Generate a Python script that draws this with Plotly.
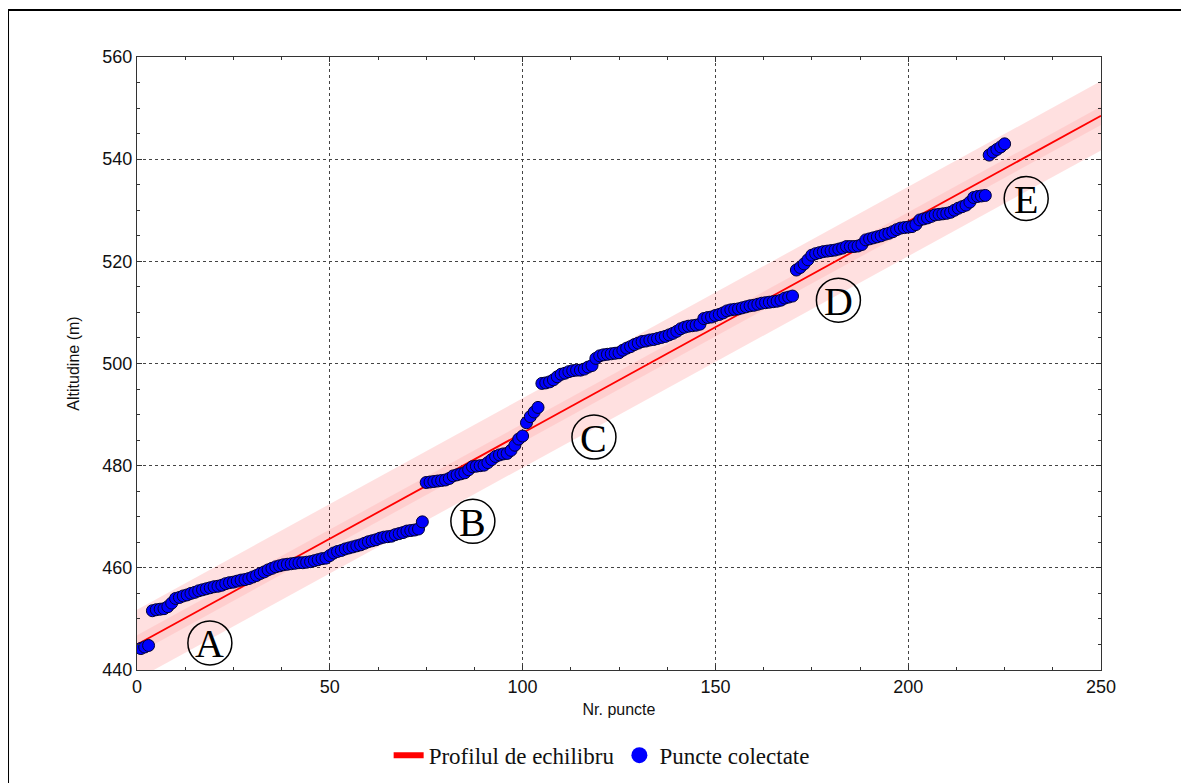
import plotly.graph_objects as go

# ---------------- data ----------------
point_x = list(range(1, 226))
point_y = [
    444.2, 444.5, 444.8,
    451.6, 451.8, 451.9, 452.0, 452.4, 453.1, 454.0, 454.2, 454.5, 454.7,
    455.0, 455.2, 455.5, 455.7, 455.9, 456.1, 456.3, 456.4, 456.6, 456.9,
    457.1, 457.2, 457.4, 457.6, 457.7, 457.9, 458.2, 458.5, 458.9, 459.2,
    459.6, 459.9, 460.2, 460.4, 460.6, 460.7, 460.8, 460.9, 461.0, 461.0,
    461.1, 461.2, 461.4, 461.6, 461.8, 461.9, 462.4, 462.9, 463.2, 463.4,
    463.7, 463.9, 464.1, 464.3, 464.5, 464.8, 465.1, 465.3, 465.5, 465.8,
    466.0, 466.1, 466.2, 466.5, 466.7, 466.9, 467.2, 467.3, 467.4, 467.6,
    469.0,
    476.7, 476.8, 476.9, 477.0, 477.1, 477.2, 477.5, 478.0, 478.2, 478.4,
    478.6, 479.2, 479.8, 479.9, 480.0, 480.1, 480.6, 481.2, 481.8, 482.1,
    482.3, 482.4, 483.0, 484.0, 485.2, 485.8, 488.4, 489.6, 490.5, 491.4,
    496.1, 496.2, 496.4, 496.8, 497.4, 497.9, 498.1, 498.4, 498.6, 498.7,
    498.7, 498.9, 499.3, 499.6, 501.0, 501.5, 501.7, 501.8, 501.9, 502.0,
    502.1, 502.6, 503.0, 503.3, 503.7, 504.0, 504.3, 504.4, 504.6, 504.7,
    504.9, 505.1, 505.3, 505.6, 505.9, 506.3, 506.8, 507.1, 507.3, 507.4,
    507.5, 507.7, 508.8, 509.0, 509.1, 509.4, 509.6, 509.9, 510.3, 510.5,
    510.6, 510.7, 510.9, 511.1, 511.3, 511.4, 511.6, 511.8, 511.9, 512.0,
    512.1, 512.2, 512.4, 512.8, 513.0, 513.2,
    518.3, 518.8, 519.5, 520.3, 521.2, 521.5, 521.7, 521.9, 522.0, 522.1,
    522.2, 522.4, 522.6, 522.9, 522.9, 522.9, 523.0, 523.3, 524.2, 524.4,
    524.6, 524.8, 525.0, 525.3, 525.5, 525.8, 526.2, 526.5, 526.6, 526.7,
    526.8, 527.2, 528.1, 528.3, 528.5, 528.8, 529.1, 529.2, 529.3, 529.4,
    529.6, 530.0, 530.4, 530.7, 531.0, 531.6, 532.5, 532.7, 532.8, 532.9,
    540.8, 541.4, 541.9, 542.4, 543.0,
]

# equilibrium profile (straight line) end points and band half-widths
profile_x = [0, 250]
profile_y = [445.0, 548.5]
band_outer = 6.8
band_inner = 1.8

segment_labels = ["A", "B", "C", "D", "E"]
label_x = [18.9, 87.1, 118.5, 181.9, 230.6]
label_y = [445.3, 469.1, 485.6, 512.4, 532.3]

x_ticks = [0, 50, 100, 150, 200, 250]
y_ticks = [440, 460, 480, 500, 520, 540, 560]

# ---------------- figure ----------------
fig = go.Figure()


def band(half, color):
    xs = profile_x + profile_x[::-1]
    ys = [profile_y[0] + half, profile_y[1] + half,
          profile_y[1] - half, profile_y[0] - half]
    fig.add_trace(go.Scatter(x=xs, y=ys, fill="toself", fillcolor=color,
                             line=dict(width=0), mode="lines",
                             hoverinfo="skip", showlegend=False))


band(band_outer, "rgba(255,0,0,0.12)")
band(band_inner, "rgba(255,0,0,0.08)")

fig.add_trace(go.Scatter(x=profile_x, y=profile_y, mode="lines",
                         line=dict(color="#ff0000", width=1.8),
                         showlegend=False, legendgroup="p"))
fig.add_trace(go.Scatter(x=point_x, y=point_y, mode="markers",
                         marker=dict(color="#0000ff", size=12,
                                     line=dict(color="#000033", width=1)),
                         showlegend=False, legendgroup="c"))

# legend entries
fig.add_trace(go.Scatter(x=[None], y=[None], mode="lines",
                         line=dict(color="#ff0000", width=6),
                         name="Profilul de echilibru", legendgroup="p"))
fig.add_trace(go.Scatter(x=[None], y=[None], mode="markers",
                         marker=dict(color="#0000ff", size=19),
                         name="Puncte colectate", legendgroup="c"))

shapes = []
annotations = []
for lab, lx, ly in zip(segment_labels, label_x, label_y):
    shapes.append(dict(type="circle", xref="x", yref="y",
                       xsizemode="pixel", ysizemode="pixel",
                       xanchor=lx, yanchor=ly,
                       x0=-22, x1=22, y0=-22, y1=22,
                       line=dict(color="black", width=1.5)))
    annotations.append(dict(x=lx, y=ly, xref="x", yref="y", text=lab,
                            showarrow=False,
                            font=dict(family="Liberation Serif", size=40,
                                      color="black"),
                            yshift=-1))

# outer frame of the picture
fl, ft, fr, fb = -0.1338, 1.0767, 1.0851, -0.19
for x0, y0, x1, y1 in [(fl, fb, fl, ft), (fl, ft, fr, ft), (fr, ft, fr, fb)]:
    shapes.append(dict(type="line", xref="paper", yref="paper",
                       x0=x0, y0=y0, x1=x1, y1=y1,
                       line=dict(color="black", width=2)))

axis_common = dict(
    showline=True, linecolor="#333", linewidth=1.2, mirror="allticks",
    ticks="inside", ticklen=5, tickcolor="#333",
    showgrid=True, gridcolor="#444", griddash="dot", gridwidth=1,
    zeroline=False,
    tickfont=dict(family="Liberation Sans", size=18, color="#111"),
    title_font=dict(family="Liberation Sans", size=16, color="#111"),
)

fig.update_xaxes(range=[0, 250], tickvals=x_ticks, title_text="Nr. puncte",
                 title_standoff=8,
                 minor=dict(ticks="inside", ticklen=3, dtick=12.5,
                            tickcolor="#333", showgrid=False),
                 **axis_common)
fig.update_yaxes(range=[440, 560], tickvals=y_ticks,
                 title_text="Altitudine (m)", title_standoff=18,
                 minor=dict(ticks="inside", ticklen=3, dtick=5,
                            tickcolor="#333", showgrid=False),
                 **axis_common)

# the page adds an 8px body margin, so the margins are reduced by 8px
fig.update_layout(
    width=1189, height=783,
    margin=dict(l=129, r=96, t=49, b=121),
    paper_bgcolor="white", plot_bgcolor="white",
    shapes=shapes, annotations=annotations,
    legend=dict(orientation="h", x=0.482, y=-0.139, xanchor="center",
                yanchor="middle",
                font=dict(family="Liberation Serif", size=23, color="#111"),
                bgcolor="rgba(0,0,0,0)", itemwidth=30),
)

fig.write_html("out.html")
